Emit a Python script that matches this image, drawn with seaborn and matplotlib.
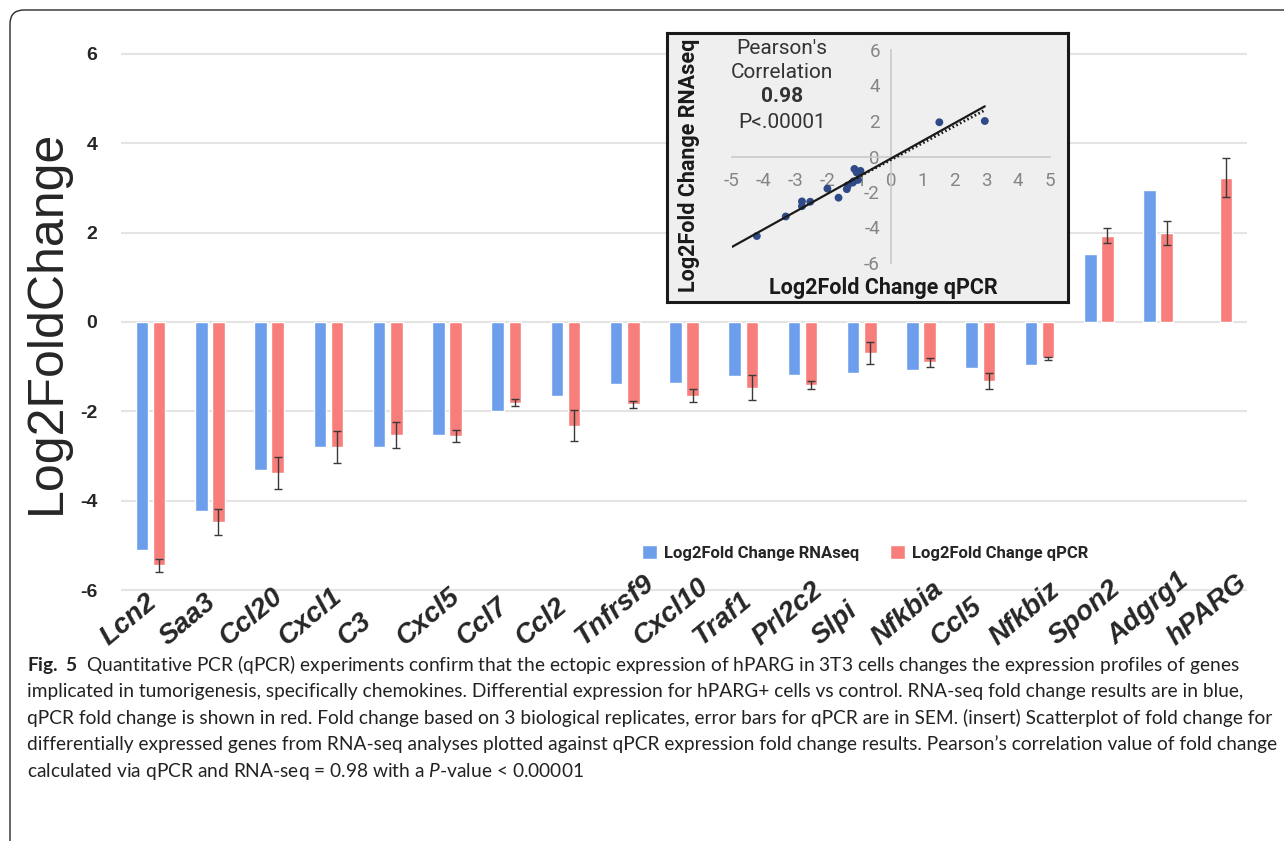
import numpy as np
import pandas as pd
import matplotlib
matplotlib.use("Agg")
import matplotlib.pyplot as plt
from matplotlib.patches import Patch, FancyBboxPatch
from matplotlib.transforms import IdentityTransform, ScaledTranslation
import seaborn as sns

# dane
genes = ['Lcn2', 'Saa3', 'Ccl20', 'Cxcl1', 'C3', 'Cxcl5', 'Ccl7', 'Ccl2', 'Tnfrsf9', 'Cxcl10',
         'Traf1', 'Prl2c2', 'Slpi', 'Nfkbia', 'Ccl5', 'Nfkbiz', 'Spon2', 'Adgrg1', 'hPARG']
rnaseq = [-5.10, -4.22, -3.31, -2.80, -2.80, -2.54, -2.00, -1.65, -1.39, -1.36,
          -1.20, -1.18, -1.15, -1.08, -1.04, -0.96, 1.52, 2.95, np.nan]
qpcr = [-5.45, -4.48, -3.38, -2.80, -2.53, -2.55, -1.81, -2.32, -1.84, -1.65,
        -1.47, -1.40, -0.70, -0.90, -1.32, -0.81, 1.93, 2.00, 3.23]
qpcr_sem = [0.14, 0.29, 0.36, 0.35, 0.30, 0.14, 0.08, 0.34, 0.08, 0.15,
            0.28, 0.09, 0.25, 0.10, 0.17, 0.03, 0.17, 0.27, 0.43]
y_ticks = [-6, -4, -2, 0, 2, 4, 6]

# geny w wykresie punktowym (wstawka)
scatter_genes = genes[1:18]
inset_xticks = [-5, -4, -3, -2, -1, 0, 1, 2, 3, 4, 5]
inset_yticks = [-6, -4, -2, 0, 2, 4, 6]

LAB_RNA = 'Log2Fold Change RNAseq'
LAB_Q = 'Log2Fold Change qPCR'
BLUE = '#6d9eeb'
RED = '#f87e7b'

caption_lines = [
    r'$\mathbf{Fig.\ 5}$  Quantitative PCR (qPCR) experiments confirm that the ectopic expression of hPARG in 3T3 cells changes the expression profiles of genes',
    'implicated in tumorigenesis, specifically chemokines. Differential expression for hPARG+ cells vs control. RNA-seq fold change results are in blue,',
    'qPCR fold change is shown in red. Fold change based on 3 biological replicates, error bars for qPCR are in SEM. (insert) Scatterplot of fold change for',
    'differentially expressed genes from RNA-seq analyses plotted against qPCR expression fold change results. Pearson\u2019s correlation value of fold change',
    r'calculated via qPCR and RNA-seq = 0.98 with a $\mathit{P}$-value < 0.00001',
]

W, H = 1284, 841
sns.set_style("white")
plt.rcParams['font.family'] = ['Liberation Sans', 'DejaVu Sans']
plt.rcParams['axes.unicode_minus'] = False
plt.rcParams['mathtext.fontset'] = 'custom'
plt.rcParams['mathtext.rm'] = 'Lato'
plt.rcParams['mathtext.it'] = 'Lato:italic'
plt.rcParams['mathtext.bf'] = 'Lato:bold'


def fx(px):
    return px / W


def fy(py):
    return 1 - py / H


fig = plt.figure(figsize=(W / 100, H / 100), dpi=100)

# wykres glowny
ax = fig.add_axes([fx(121), fy(594.5), fx(1247) - fx(121), fy(49.5) - fy(594.5)])
df = pd.DataFrame({
    'gene': genes * 2,
    'series': [LAB_RNA] * len(genes) + [LAB_Q] * len(genes),
    'value': rnaseq + qpcr,
}).dropna()
sns.barplot(data=df, x='gene', y='value', hue='series', order=genes,
            hue_order=[LAB_RNA, LAB_Q], palette=[BLUE, RED], saturation=1,
            width=0.58, gap=0.27, errorbar=None, legend=False, ax=ax, zorder=2)

# slupki bledu (SEM) dla qPCR
qbars = ax.containers[-1]
xs = [b.get_x() + b.get_width() / 2 for b in qbars]
ys = [b.get_height() for b in qbars]
ax.errorbar(xs, ys, yerr=qpcr_sem, fmt='none', ecolor='#3a3a3a',
            elinewidth=1.0, capsize=3, capthick=1.0, zorder=3)

ax.set_xlim(-0.5, len(genes) - 0.5)
ax.set_ylim(-6.1, 6.1)
ax.set_yticks(y_ticks)
ax.yaxis.grid(True, color='#e4e4e4', linewidth=1.5)
ax.set_axisbelow(True)
# siatka osi y pod etykietami osi x
ax.yaxis.set_zorder(0.4)
sns.despine(ax=ax, left=True, bottom=True)
ax.tick_params(axis='y', length=0, pad=17, labelsize=14)
for lbl in ax.get_yticklabels():
    lbl.set_fontweight('bold')

# etykiety osi x: zakotwiczone w lewym dolnym rogu, obrocone o 40 stopni
ax.set_xticks(range(len(genes)))
ax.set_xticklabels(genes, rotation=40, fontsize=20, fontweight='bold',
                   fontstyle='italic', ha='left', va='baseline', rotation_mode='anchor')
ax.tick_params(axis='x', length=0, pad=37)
ax.set_xlabel('')
ax.set_ylabel('Log2FoldChange', fontsize=36)
ax.yaxis.set_label_coords(-0.045, 0.5)

handles = [Patch(facecolor=BLUE, label=LAB_RNA), Patch(facecolor=RED, label=LAB_Q)]
fig.legend(handles=handles, loc='center', bbox_to_anchor=(fx(865), fy(553)), ncol=2,
           frameon=False, prop={'family': 'Roboto', 'weight': 'bold', 'size': 12},
           handlelength=0.9, handleheight=0.9, handletextpad=0.45, columnspacing=1.8)

# wstawka - ramka
box = fig.add_axes([fx(667), fy(302), fx(1068) - fx(667), fy(33) - fy(302)])
box.set_facecolor('#efefef')
box.set_xticks([])
box.set_yticks([])
for s in box.spines.values():
    s.set_visible(True)
    s.set_linewidth(2.2)
    s.set_color('#1a1a1a')

# wstawka - wykres punktowy
ins = fig.add_axes([fx(732), fy(263), fx(1050) - fx(732), fy(50) - fy(263)])
ins.patch.set_alpha(0)
sx = np.array([rnaseq[genes.index(g)] for g in scatter_genes])
sy = np.array([qpcr[genes.index(g)] for g in scatter_genes])
sns.scatterplot(x=sx, y=sy, ax=ins, color='#2f4a86', s=32, edgecolor='none',
                zorder=3, clip_on=False)

# linie trendu: pelna (x od y) i kropkowana (y od x)
b_yx, a_yx = np.polyfit(sx, sy, 1)
b_xy, a_xy = np.polyfit(sy, sx, 1)
xx = np.array([-5, sx.max()])
ins.plot(xx, (xx - a_xy) / b_xy, color='#1a1a1a', lw=1.6, zorder=4)
xd = np.array([sx.mean(), sx.max()])
ins.plot(xd, b_yx * xd + a_yx, color='#1a1a1a', lw=2.0, ls=(0, (0.6, 0.9)), zorder=4)

ins.set_xlim(-5, 5)
ins.set_ylim(-6, 6)
ins.set_xticks(inset_xticks)
ins.set_yticks(inset_yticks)
ins.spines['left'].set_position(('data', 0))
ins.spines['bottom'].set_position(('data', 0))
ins.spines['top'].set_visible(False)
ins.spines['right'].set_visible(False)
for side in ['left', 'bottom']:
    ins.spines[side].set_color('#c9c9c9')
    ins.spines[side].set_linewidth(1.2)
ins.tick_params(axis='both', length=0, labelsize=13.5, labelcolor='#858585')
ins.tick_params(axis='x', pad=11)
ins.tick_params(axis='y', pad=8)
for lbl in ins.get_xticklabels() + ins.get_yticklabels():
    lbl.set_family('Roboto')

txt_kw = dict(ha='center', va='center', family='Roboto', fontsize=15, color='#333333')
fig.text(fx(782), fy(48), "Pearson's", **txt_kw)
fig.text(fx(782), fy(72), 'Correlation', **txt_kw)
fig.text(fx(782), fy(97), '0.98', fontweight='bold', **txt_kw)
fig.text(fx(782), fy(122), 'P<.00001', **txt_kw)
fig.text(fx(689), fy(165), 'Log2Fold Change RNAseq', rotation=90, ha='center', va='center',
         family='Roboto', fontweight='bold', fontsize=15.5, color='#1a1a1a')
fig.text(fx(883), fy(288), 'Log2Fold Change qPCR', ha='center', va='center',
         family='Roboto', fontweight='bold', fontsize=15.5, color='#1a1a1a')

# podpis pod rycina
for i, line in enumerate(caption_lines):
    fig.text(fx(27), fy(665 + i * 26.5), line, ha='left', va='center',
             family='Lato', fontsize=13.8, color='#222222')

# zaokraglona ramka calej ryciny
frame = FancyBboxPatch((10, -40), 1320, H - 10 + 40, boxstyle='round,pad=0,rounding_size=14',
                       transform=IdentityTransform(), facecolor='none',
                       edgecolor='#2a2a2a', linewidth=1.0)
fig.add_artist(frame)

# przesuniecie etykiet osi x w lewo wzgledem srodka kategorii
shift = ScaledTranslation(-42 / 100, 0, fig.dpi_scale_trans)
for lbl in ax.get_xticklabels():
    lbl.set_transform(lbl.get_transform() + shift)

fig.savefig('out.png', dpi=100)
